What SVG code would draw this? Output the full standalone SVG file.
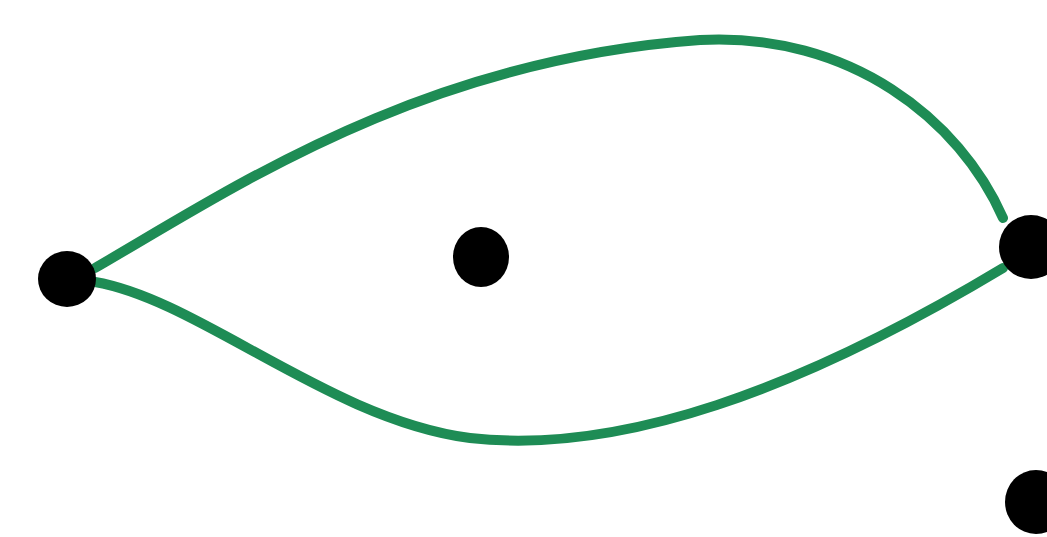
<svg xmlns="http://www.w3.org/2000/svg" width="1047" height="537" viewBox="0 0 1047 537">
<style>
.edge{fill:none;stroke:#1e8c55;stroke-width:10;stroke-linecap:round}
.dot{fill:#000}
</style>
<rect width="1047" height="537" fill="#fff"/>
<g id="connectors">
<path class="edge" d="M95,268 C230,190 420,60 700,40 C850,32 960,120 1003,218"/>
<path class="edge" d="M95,282 C200,300 330,420 470,438 C620,455 800,390 1003,268"/>
</g>
<g id="n1"><ellipse class="dot" cx="67" cy="279" rx="29" ry="28"/></g>
<g id="n2"><ellipse class="dot" cx="481" cy="257" rx="28" ry="30"/></g>
<g id="n3"><ellipse class="dot" cx="1031" cy="247" rx="32" ry="32"/></g>
<g id="n4"><ellipse class="dot" cx="1036" cy="502" rx="31" ry="32"/></g>
</svg>
